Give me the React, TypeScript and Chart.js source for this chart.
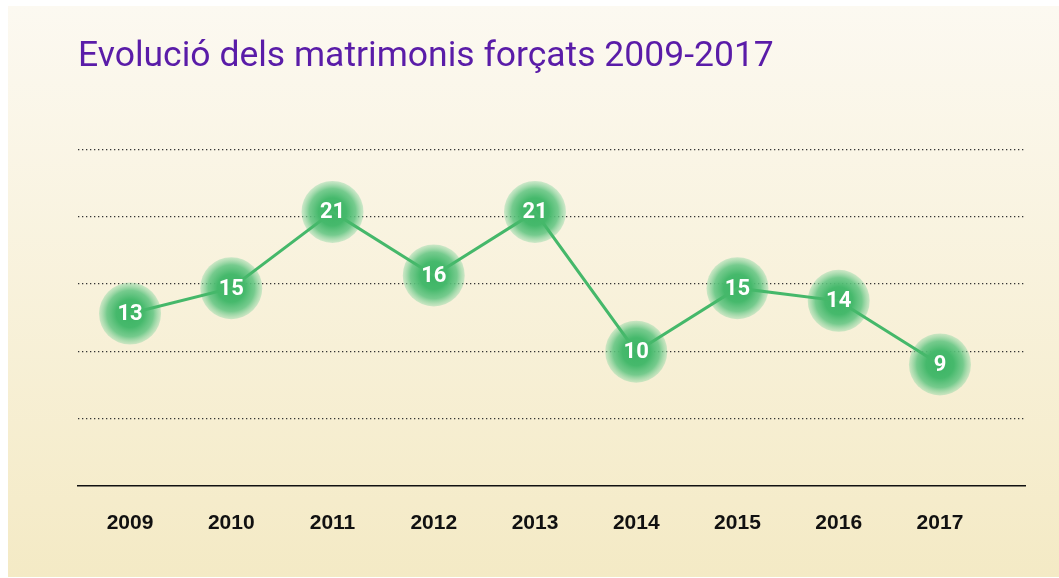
import React, { useEffect, useRef } from "react";
import { Chart, registerables } from "chart.js";

Chart.register(...registerables);

const titleText = "Evolució dels matrimonis forçats 2009-2017";
const years = ["2009", "2010", "2011", "2012", "2013", "2014", "2015", "2016", "2017"];
const counts = [13, 15, 21, 16, 21, 10, 15, 14, 9];
const yMin = -0.55;
const yMax = 25.9;
const gridCount = 5;

const NARROW = '"Liberation Sans Narrow", "Roboto", sans-serif';

const bgPlugin = {
  id: "bgPanel",
  beforeDraw(chart: any) {
    const { ctx, width, height } = chart;
    ctx.save();
    ctx.fillStyle = "#ffffff";
    ctx.fillRect(0, 0, width, height);
    const g = ctx.createLinearGradient(0, 6, 0, 577);
    g.addColorStop(0, "#fcf9f1");
    g.addColorStop(1, "#f4eac5");
    ctx.fillStyle = g;
    ctx.fillRect(8, 6, width - 8, 571);
    ctx.restore();
  },
};

const bubblePlugin = {
  id: "bubbles",
  beforeDatasetsDraw(chart: any) {
    const { ctx } = chart;
    const meta = chart.getDatasetMeta(0);
    ctx.save();
    meta.data.forEach((pt: any) => {
      const r = 31;
      const g = ctx.createRadialGradient(pt.x, pt.y, 0, pt.x, pt.y, r);
      g.addColorStop(0, "rgba(60,180,100,1)");
      g.addColorStop(0.45, "rgba(70,185,108,1)");
      g.addColorStop(0.75, "rgba(95,196,128,0.85)");
      g.addColorStop(1, "rgba(140,214,163,0.4)");
      ctx.fillStyle = g;
      ctx.beginPath();
      ctx.arc(pt.x, pt.y, r, 0, Math.PI * 2);
      ctx.fill();
    });
    ctx.restore();
  },
  afterDatasetsDraw(chart: any) {
    const { ctx } = chart;
    const meta = chart.getDatasetMeta(0);
    ctx.save();
    ctx.fillStyle = "#ffffff";
    ctx.font = "bold 22px " + NARROW;
    ctx.textAlign = "center";
    ctx.textBaseline = "middle";
    meta.data.forEach((pt: any, i: number) => {
      ctx.fillText(String(counts[i]), pt.x, pt.y + 1);
    });
    ctx.restore();
  },
};

export default function App() {
  const ref = useRef<HTMLCanvasElement | null>(null);
  useEffect(() => {
    if (!ref.current) return;
    const chart = new Chart(ref.current, {
      type: "line",
      data: {
        datasets: [
          {
            data: counts.map((v, i) => ({ x: i, y: v })),
            borderColor: "#45b86a",
            borderWidth: 3,
            pointRadius: 0,
            pointHoverRadius: 0,
            tension: 0,
          },
        ],
      },
      options: {
        animation: false,
        responsive: false,
        maintainAspectRatio: false,
        events: [],
        layout: { padding: { left: 78, right: 34, top: 0, bottom: 17 } },
        plugins: {
          legend: { display: false },
          tooltip: { enabled: false },
          title: {
            display: true,
            text: titleText,
            align: "start",
            color: "#5a1ca8",
            font: { family: NARROW, size: 35.5, weight: "normal" },
            padding: { top: 36, bottom: 71 },
          },
        },
        scales: {
          x: {
            type: "linear",
            min: -0.514,
            max: 8.84,
            afterBuildTicks: (scale: any) => {
              scale.ticks = years.map((_, i) => ({ value: i }));
            },
            grid: { display: false, drawTicks: false },
            border: { display: true, color: "#111111", width: 1.5 },
            ticks: {
              padding: 25,
              color: "#111111",
              font: { family: '"Liberation Sans", Arial, sans-serif', size: 21, weight: "bold" },
              callback: (v: any) => years[v as number] ?? "",
              maxRotation: 0,
              autoSkip: false,
            },
          },
          y: {
            min: yMin,
            max: yMax,
            afterBuildTicks: (scale: any) => {
              const step = (yMax - yMin) / gridCount;
              const t = [];
              for (let k = 1; k <= gridCount; k++) t.push({ value: yMin + k * step });
              scale.ticks = t;
            },
            grid: { color: "#333333", lineWidth: 1.3, drawTicks: false },
            border: { display: false, dash: [1.3, 2.7] },
            ticks: { display: false },
          },
        },
      },
      plugins: [bgPlugin, bubblePlugin],
    });
    return () => chart.destroy();
  }, []);
  return (
    <div style={{ position: "fixed", left: 0, top: 0, width: 1059, height: 578 }}>
      <canvas ref={ref} width={1059} height={578} style={{ display: "block" }} />
    </div>
  );
}
